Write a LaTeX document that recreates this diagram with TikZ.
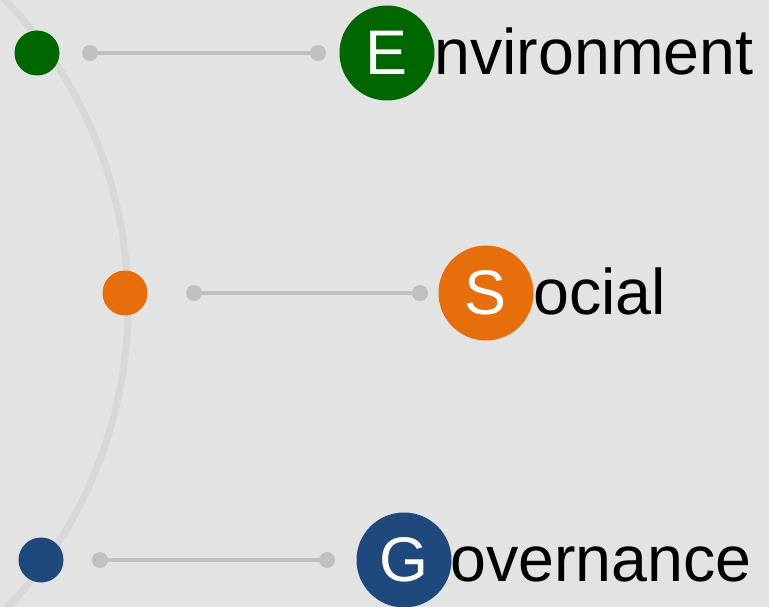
\documentclass[tikz,border=0pt]{standalone}
\usepackage{fontspec}
\setmainfont{Liberation Sans}
\definecolor{envGreen}{RGB}{0,102,0}
\definecolor{socOrange}{RGB}{230,110,12}
\definecolor{govBlue}{RGB}{31,73,125}
\definecolor{bgGray}{RGB}{227,227,227}
\definecolor{arcGray}{RGB}{216,216,216}
\definecolor{linkGray}{RGB}{192,192,192}

\begin{document}
\begin{tikzpicture}
[x=1pt,y=-1pt,
  dotDecorate/.style={shape=circle,inner sep=0pt,minimum size=45pt,fill=#1},%
  endDecorate/.style={shape=circle,inner sep=0pt,minimum size=16pt,fill=linkGray},%
  letterDecorate/.style={shape=circle,inner sep=0pt,minimum size=95pt,fill=#1,
    text=white,font=\fontsize{63}{75}\selectfont},%
  wordDecorate/.style={inner sep=0pt,anchor=base west,font=\fontsize{64.5}{77}\selectfont},%
  lineDecorate/.style={-,line width=3.5pt,draw=linkGray}]
%% background and arc
\useasboundingbox (0,0) rectangle (769,607);
\fill[bgGray] (0,0) rectangle (769,607);
\clip (0,0) rectangle (769,607);
\draw[arcGray,line width=7pt] (-311.6,305) circle[radius=439.6];
%% nodes or vertices
\foreach \name/\col/\dx/\dy/\ax/\bx/\cx/\letter/\rest/\gap in {
  env/envGreen/37/53/90/318/387/E/nvironment/-0.5,
  soc/socOrange/125/293/194/420/486/S/ocial/-0.5,
  gov/govBlue/41/560/100/327/404/G/overnance/-1.5}
{
  \node (\name Dot) at (\dx,\dy) [dotDecorate=\col] {};
  \node (\name A) at (\ax,\dy) [endDecorate] {};
  \node (\name B) at (\bx,\dy) [endDecorate] {};
  \node (\name Letter) at (\cx,\dy) [letterDecorate=\col] {\letter};
  \node (\name Word) at (\name Letter.east |- \name Letter.base) [wordDecorate,xshift=\gap pt] {\rest};
}
%% edges or lines
\path
\foreach \startnode/\endnode in {envA/envB, socA/socB, govA/govB}
{
  (\startnode) edge[lineDecorate] (\endnode)
};
\end{tikzpicture}
\end{document}
